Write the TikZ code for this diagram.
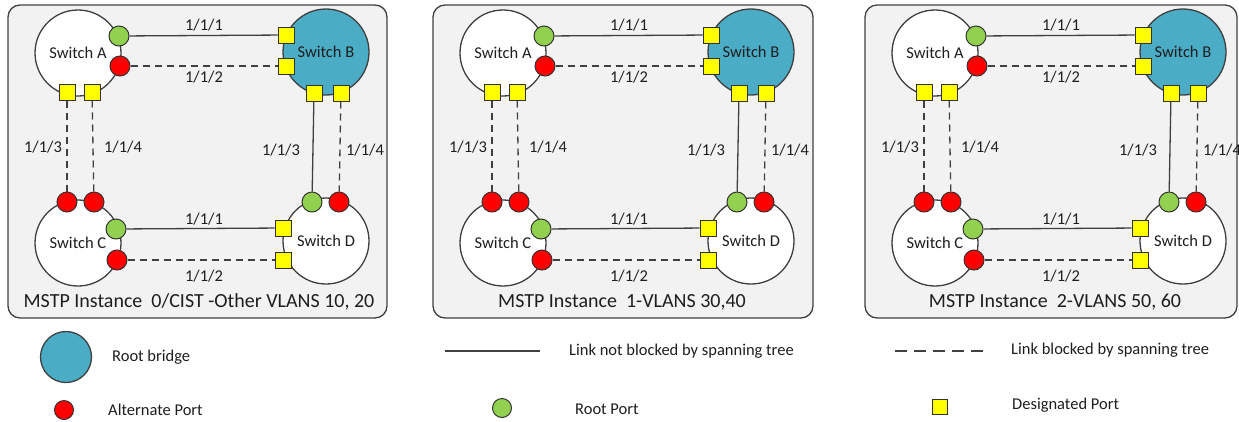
\documentclass[tikz,border=0pt]{standalone}
\usepackage{fontspec}
\setmainfont{Carlito}
\definecolor{panelbg}{RGB}{242,242,242}
\definecolor{edgec}{RGB}{64,64,64}
\definecolor{rootblue}{RGB}{75,172,198}
\definecolor{rootgreen}{RGB}{146,208,80}
\definecolor{altred}{RGB}{255,0,0}
\definecolor{desyellow}{RGB}{255,255,0}
\definecolor{txt}{RGB}{30,30,30}
\tikzset{
  panelbox/.style={draw=edgec, fill=panelbg, line width=1.3pt, rounded corners=12pt},
  switchnode/.style={circle, draw=edgec, line width=1.3pt, fill=white, minimum size=86pt, inner sep=0pt, font=\fontsize{16.5}{18}\selectfont, text=txt},
  rootsw/.style={switchnode, fill=rootblue},
  rootport/.style={circle, draw=black!80, line width=1pt, fill=rootgreen, minimum size=20pt, inner sep=0pt},
  altport/.style={rootport, fill=altred},
  desport/.style={rectangle, draw=black!80, line width=1pt, fill=desyellow, minimum size=16pt, inner sep=0pt},
  fwd/.style={draw=edgec, line width=1.3pt},
  blk/.style={draw=edgec, line width=1.3pt, dash pattern=on 7pt off 5pt},
  portlbl/.style={font=\fontsize{16.5}{18}\selectfont, text=txt, inner sep=0pt},
  titlelbl/.style={font=\fontsize{20}{22}\selectfont, text=txt, inner sep=0pt},
  legendlbl/.style={font=\fontsize{16.5}{18}\selectfont, text=txt, inner sep=0pt, anchor=west},
}
% #1 prefix, #2 x offset, #3 title, #4 box right edge (local), #5 title x (local)
\newcommand{\mstppanel}[5]{%
\begin{scope}[xshift=#2pt]
  \path[panelbox] (8,5) rectangle (#4,318);
  \node[switchnode] (#1A) at (78,53) {Switch A};
  \node[rootsw] (#1B) at (326,52) {Switch B};
  \node[switchnode] (#1C) at (78,243) {Switch C};
  \node[switchnode] (#1D) at (326,241) {Switch D};
  % ports of A
  \node[rootport] (#1Ag) at (119,36) {};
  \node[altport] (#1Ar) at (120,66) {};
  \node[desport] (#1Ad1) at (67,92) {};
  \node[desport] (#1Ad2) at (92,92) {};
  % ports of B
  \node[desport] (#1Bd1) at (286,35) {};
  \node[desport] (#1Bd2) at (286,66) {};
  \node[desport] (#1Bd3) at (314,93) {};
  \node[desport] (#1Bd4) at (341,93) {};
  % ports of C
  \node[altport] (#1Cr1) at (67,202) {};
  \node[altport] (#1Cr2) at (94,202) {};
  \node[rootport] (#1Cg) at (116,229) {};
  \node[altport] (#1Cr) at (117,260) {};
  % ports of D
  \node[rootport] (#1Dg) at (312,202) {};
  \node[altport] (#1Dr) at (339,202) {};
  \node[desport] (#1Dd1) at (283,228) {};
  \node[desport] (#1Dd2) at (283,260) {};
  % links
  \draw[fwd] (#1Ag) -- (#1Bd1);
  \draw[blk] (#1Ar) -- (#1Bd2);
  \draw[blk] (#1Ad1) -- (#1Cr1);
  \draw[blk] (#1Ad2) -- (#1Cr2);
  \draw[fwd] (#1Bd3) -- (#1Dg);
  \draw[blk] (#1Bd4) -- (#1Dr);
  \draw[fwd] (#1Cg) -- (#1Dd1);
  \draw[blk] (#1Cr) -- (#1Dd2);
  % link labels
  \node[portlbl] (#1l1) at (204,25) {1/1/1};
  \node[portlbl] (#1l2) at (204,77) {1/1/2};
  \node[portlbl] (#1l3) at (43,147) {1/1/3};
  \node[portlbl] (#1l4) at (123,147) {1/1/4};
  \node[portlbl] (#1l5) at (281,150) {1/1/3};
  \node[portlbl] (#1l6) at (365,150) {1/1/4};
  \node[portlbl] (#1l7) at (204,219) {1/1/1};
  \node[portlbl] (#1l8) at (204,276) {1/1/2};
  \node[titlelbl] (#1title) at (#5,302) {#3};
\end{scope}}
\begin{document}
\begin{tikzpicture}[x=1pt,y=-1pt]
  \useasboundingbox (0,0) rectangle (1239,421);
  \mstppanel{p}{0}{MSTP Instance~~0/CIST -Other VLANS 10, 20}{387}{199}
  \mstppanel{q}{425}{MSTP Instance~~1-VLANS 30,40}{388}{197}
  \mstppanel{r}{857}{MSTP Instance~~2-VLANS 50, 60}{380}{198}
  % legend
  \node[rootsw, minimum size=51pt] (lgroot) at (66,357) {};
  \node[legendlbl] (lgroottxt) at (112,357) {Root bridge};
  \node[altport, minimum size=19pt] (lgalt) at (64,410) {};
  \node[legendlbl] (lgalttxt) at (108,410) {Alternate Port};
  \coordinate (lgfwdA) at (445,351);
  \coordinate (lgfwdB) at (540,351);
  \draw[fwd, line width=1.8pt] (lgfwdA) -- (lgfwdB);
  \node[legendlbl] (lgfwdtxt) at (569,351) {Link not blocked by spanning tree};
  \node[rootport, minimum size=19pt] (lgrp) at (502,408) {};
  \node[legendlbl] (lgrptxt) at (575,409) {Root Port};
  \coordinate (lgblkA) at (895,351);
  \coordinate (lgblkB) at (990,351);
  \draw[blk, line width=1.8pt, dash pattern=on 12pt off 7pt] (lgblkA) -- (lgblkB);
  \node[legendlbl] (lgblktxt) at (1011,350) {Link blocked by spanning tree};
  \node[desport, minimum size=15pt] (lgdp) at (939.5,407) {};
  \node[legendlbl] (lgdptxt) at (1012,405) {Designated Port};
\end{tikzpicture}
\end{document}
